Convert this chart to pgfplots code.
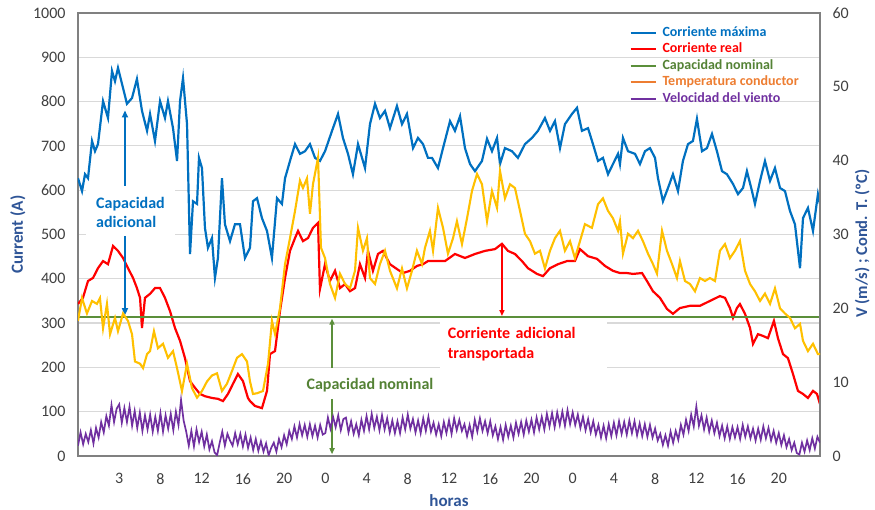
\documentclass[border=0pt]{standalone}
\usepackage{fontspec}
\setmainfont{Carlito}
\usepackage{pgfplots}
\pgfplotsset{compat=1.18}
\usetikzlibrary{arrows.meta}
\definecolor{cmax}{HTML}{0070C0}
\definecolor{creal}{HTML}{FF0000}
\definecolor{cnom}{HTML}{5B8F3A}
\definecolor{cnomtxt}{HTML}{548235}
\definecolor{ctemp}{HTML}{FFC000}
\definecolor{corange}{HTML}{ED7D31}
\definecolor{cwind}{HTML}{7030A0}
\definecolor{ctitle}{HTML}{2F5597}
\definecolor{cgrid}{HTML}{D9D9D9}
\definecolor{cframe}{HTML}{808080}
\definecolor{ctick}{HTML}{404040}
\pgfplotsset{
  base/.style={scale only axis, width=742pt, height=443pt, xmin=0, xmax=72,
    tick style={draw=none}, major tick length=0pt,
    /pgf/number format/assume math mode=true,
    /pgf/number format/set thousands separator={},
    tick label style={font=\fontsize{16}{18}\selectfont, text=ctick},
    axis line style={draw=cframe, line width=1.5pt},
  },
  myleg/.style={legend image code/.code={\draw[#1, line width=2pt] (0pt,0pt) -- (25pt,0pt);}},
}
\begin{document}
\begin{tikzpicture}
\begin{axis}[base,
  ymin=0, ymax=1000, ytick={0,100,...,1000},
  xtick={4,8,...,68}, xticklabels={3,8,12,16,20,0,4,8,12,16,20,0,4,8,12,16,20},
  ymajorgrids, grid style={draw=cgrid, line width=1.2pt},
  xticklabel style={yshift=-14pt}, yticklabel style={xshift=-9pt},
  xlabel={horas}, ylabel={Current (A)},
  label style={font=\bfseries\fontsize{17}{20}\selectfont, text=ctitle},
  xlabel style={at={(axis description cs:0.5,-0.1016)}, anchor=center},
  ylabel style={at={(axis description cs:-0.0809,0.5)}, anchor=center},
]
\coordinate (sw) at (rel axis cs:0,0);
\coordinate (ne) at (rel axis cs:1,1);
% white text boxes (hide grid)
\node[fill=white, text=cmax, font=\bfseries\fontsize{16}{19}\selectfont, align=left, anchor=west, inner xsep=10pt, inner ysep=7pt] at (axis cs:0.78,550) {Capacidad\\adicional};
\node[fill=white, text=creal, font=\bfseries\fontsize{16}{20}\selectfont, align=left, anchor=west, inner xsep=8pt, text width=151pt, minimum height=52pt] at (axis cs:35.10,253) {Corriente adicional\\transportada};
\node[fill=white, text=cnomtxt, font=\bfseries\fontsize{16}{19}\selectfont, inner xsep=3pt, inner ysep=4pt] at (axis cs:28.33,160) {Capacidad nominal};

\addplot[cmax, line width=2.2pt] coordinates {
(0,627)(0.39,598)(0.68,636)(0.97,627)(1.36,711)(1.65,688)(1.94,704)(2.43,801)(2.91,763)(3.30,869)(3.59,846)(3.88,876)(4.27,840)(4.75,795)(5.24,808)(5.72,851)(6.21,779)(6.70,734)(6.99,772)(7.47,711)(7.96,801)(8.44,763)(8.73,801)(9.22,740)(9.61,666)(9.90,801)(10.19,853)(10.58,749)(10.87,456)(11.16,575)(11.55,569)(11.74,673)(12.03,650)(12.32,515)(12.61,470)(13.00,492)(13.29,402)(13.58,447)(13.97,627)(14.26,523)(14.75,485)(15.23,523)(15.72,523)(16.20,447)(16.69,470)(16.98,575)(17.37,582)(17.85,537)(18.34,508)(18.82,447)(19.31,582)(19.79,569)(20.09,627)(20.57,666)(21.06,704)(21.54,682)(22.03,688)(22.51,704)(23.00,673)(23.48,666)(23.97,688)(24.65,734)(25.23,772)(25.71,718)(26.20,682)(26.68,636)(27.17,704)(27.85,650)(28.33,749)(28.82,795)(29.30,763)(29.79,779)(30.27,740)(30.95,790)(31.44,749)(31.92,772)(32.51,695)(32.99,718)(33.48,704)(33.96,673)(34.35,673)(34.93,650)(35.42,695)(36.10,756)(36.58,734)(37.07,767)(37.55,695)(38.04,659)(38.52,643)(39.20,666)(39.69,716)(40.17,688)(40.66,718)(40.95,659)(41.43,695)(42.11,688)(42.69,673)(43.37,704)(44.05,718)(44.63,734)(45.31,763)(45.80,734)(46.28,756)(46.77,695)(47.25,749)(47.93,772)(48.42,786)(48.90,734)(49.49,740)(49.97,704)(50.46,666)(50.94,673)(51.43,636)(51.91,659)(52.40,682)(52.59,659)(52.88,718)(53.37,688)(54.05,682)(54.53,659)(55.02,688)(55.50,695)(55.99,673)(56.28,627)(56.76,575)(57.25,605)(57.73,636)(58.22,598)(58.70,666)(59.19,704)(59.67,711)(60.06,761)(60.55,688)(61.03,695)(61.52,727)(62.00,688)(62.49,643)(62.97,636)(63.56,614)(64.04,591)(64.53,605)(64.91,643)(65.40,598)(65.69,569)(66.18,621)(66.66,666)(67.15,621)(67.63,650)(68.12,605)(68.60,598)(69.09,553)(69.57,523)(70.06,424)(70.35,537)(70.83,560)(71.32,508)(71.80,591)(72,569)
};
\addplot[creal, line width=2.2pt] coordinates {
(0,343)(0.48,357)(0.97,395)(1.46,402)(1.94,424)(2.43,440)(2.91,433)(3.40,474)(3.88,463)(4.37,447)(4.85,424)(5.34,402)(5.72,379)(6.02,357)(6.21,289)(6.50,357)(6.99,366)(7.47,379)(7.96,379)(8.44,357)(8.93,327)(9.41,289)(9.90,260)(10.38,221)(10.87,169)(11.35,154)(11.84,140)(12.32,135)(13.00,131)(13.58,129)(14.07,124)(14.55,140)(15.04,163)(15.52,185)(16.01,169)(16.49,131)(16.69,124)(17.17,113)(17.85,108)(18.34,147)(18.63,230)(19.12,237)(19.60,327)(20.09,402)(20.57,463)(21.06,492)(21.35,508)(21.83,485)(22.32,492)(22.80,515)(23.29,526)(23.48,377)(23.97,433)(24.45,395)(24.94,418)(25.42,379)(25.91,388)(26.39,372)(26.88,379)(27.36,433)(27.85,402)(28.14,463)(28.62,418)(29.11,456)(29.59,463)(30.27,433)(30.95,422)(31.53,413)(32.21,418)(32.89,429)(33.48,433)(33.96,440)(34.64,440)(35.61,440)(36.58,456)(37.55,447)(38.52,456)(39.49,463)(40.46,467)(41.14,479)(41.72,463)(42.40,456)(43.08,440)(43.66,424)(44.54,411)(45.12,406)(45.80,424)(46.58,433)(47.45,440)(48.22,440)(48.71,467)(49.49,451)(50.36,445)(51.14,429)(51.91,418)(52.59,413)(53.27,413)(53.85,411)(54.73,413)(55.21,395)(55.79,372)(56.47,357)(57.15,332)(57.73,321)(58.41,334)(59.38,339)(60.35,339)(61.32,350)(62.29,361)(62.78,357)(63.26,334)(63.56,312)(63.94,334)(64.23,343)(64.72,321)(65.21,289)(65.50,253)(65.98,275)(66.47,271)(66.95,266)(67.53,305)(67.92,266)(68.41,230)(68.89,221)(69.38,185)(69.86,147)(70.35,140)(70.83,131)(71.32,147)(71.71,140)(72,117)
};
\addplot[cnom, line width=2pt] coordinates {(0,313)(72,313)};
% arrows
\draw[cmax, line width=2pt, -{Triangle[length=7pt,width=6pt]}] (axis cs:4.56,610) -- (axis cs:4.56,780);
\draw[cmax, line width=2pt, -{Triangle[length=7pt,width=6pt]}] (axis cs:4.56,497) -- (axis cs:4.56,318);
\draw[creal, line width=1.6pt, -{Triangle[length=6pt,width=5pt]}] (axis cs:41.14,479) -- (axis cs:41.14,316);
\draw[cnom, line width=1.6pt, -{Triangle[length=6pt,width=5pt]}] (axis cs:24.65,199) -- (axis cs:24.65,310);
\draw[cnom, line width=1.6pt, -{Triangle[length=6pt,width=5pt]}] (axis cs:24.65,129) -- (axis cs:24.65,4);
\end{axis}
\begin{axis}[base, myleg,
  ymin=0, ymax=60, ytick={0,10,...,60},
  axis x line=none, axis y line*=right,
  yticklabel style={xshift=9pt},
  ylabel={V (m/s) ; Cond. T. (ºC)},
  ylabel style={at={(axis description cs:1.057,0.479)}, anchor=center, font=\bfseries\fontsize{16.5}{19}\selectfont, text=ctitle},
  legend style={draw=none, fill=none, at={(axis description cs:0.743,0.970)}, anchor=north west,
    font=\bfseries\fontsize{14}{16}\selectfont, row sep=3.5pt, inner sep=0pt,
    nodes={inner sep=0pt, text height=10pt, text depth=3pt}},
  legend cell align=left,
]
\addlegendimage{cmax}\addlegendentry{\hspace{6pt}\textcolor{cmax}{Corriente máxima}}
\addlegendimage{creal}\addlegendentry{\hspace{6pt}\textcolor{creal}{Corriente real}}
\addlegendimage{cnom}\addlegendentry{\hspace{6pt}\textcolor{cnomtxt}{Capacidad nominal}}
\addlegendimage{corange}\addlegendentry{\hspace{6pt}\textcolor{corange}{Temperatura conductor}}
\addlegendimage{cwind}\addlegendentry{\hspace{6pt}\textcolor{cwind}{Velocidad del viento}}
\addplot[ctemp, line width=2.1pt, forget plot] coordinates {
(0,18.3)(0.39,21.4)(0.87,19.3)(1.36,21.0)(1.84,20.6)(2.13,21.4)(2.43,17.3)(2.81,20.6)(3.11,16.5)(3.59,18.7)(3.88,16.9)(4.37,19.3)(4.85,18.3)(5.24,16.5)(5.53,12.8)(6.02,12.5)(6.31,11.9)(6.70,13.8)(6.99,14.2)(7.37,16.9)(7.76,14.6)(8.25,15.2)(8.73,13.3)(9.22,14.2)(9.61,11.9)(10.09,8.8)(10.58,12.5)(11.06,9.2)(11.55,7.9)(12.03,8.8)(12.52,10.1)(13.00,10.9)(13.49,11.2)(13.97,8.8)(14.46,9.8)(14.94,11.5)(15.43,13.3)(15.91,13.8)(16.40,12.8)(16.69,10.1)(16.98,8.4)(17.37,8.5)(17.95,8.8)(18.44,12.5)(18.82,18.3)(19.12,16.5)(19.60,20.0)(20.09,26.0)(20.57,29.5)(21.06,33.2)(21.54,37.3)(21.83,36.3)(22.22,37.6)(22.51,32.8)(22.80,36.8)(23.29,40.4)(23.58,28.2)(23.97,26.8)(24.45,23.3)(24.94,21.4)(25.42,24.7)(25.91,23.3)(26.39,22.7)(26.88,25.1)(27.17,30.9)(27.65,27.8)(28.04,29.5)(28.33,24.1)(28.82,23.3)(29.30,26.0)(29.79,27.8)(30.27,25.1)(30.95,22.7)(31.44,25.4)(31.92,22.7)(32.41,25.1)(32.89,27.8)(33.38,26.0)(33.67,28.2)(34.15,30.5)(34.45,27.8)(34.93,33.6)(35.42,30.9)(35.90,27.4)(36.39,29.5)(36.77,31.8)(37.26,28.7)(37.75,32.2)(38.23,35.9)(38.72,38.2)(39.20,36.8)(39.69,31.8)(40.17,35.9)(40.66,33.6)(40.95,38.6)(41.43,34.9)(41.92,36.8)(42.40,36.3)(42.89,33.2)(43.37,30.1)(43.86,29.1)(44.34,27.4)(44.83,27.8)(45.31,25.4)(45.80,27.8)(46.28,29.5)(46.77,30.5)(47.25,27.8)(47.74,29.1)(48.22,26.8)(48.71,29.1)(49.19,31.4)(49.87,30.9)(50.46,34.1)(50.94,34.9)(51.43,33.2)(51.91,32.2)(52.40,30.5)(52.59,31.8)(52.88,27.4)(53.37,30.1)(53.85,29.5)(54.34,30.5)(54.82,29.1)(55.31,27.4)(55.79,26.0)(56.18,24.7)(56.67,30.5)(57.15,27.8)(57.64,26.0)(58.12,24.1)(58.41,26.4)(58.90,23.7)(59.38,23.3)(59.87,22.3)(60.35,24.1)(60.84,23.7)(61.32,24.1)(61.81,23.7)(62.29,27.8)(62.78,28.7)(63.26,26.8)(63.75,27.8)(64.23,29.1)(64.72,25.1)(65.21,23.3)(65.69,22.3)(66.18,21.0)(66.66,22.0)(67.15,20.6)(67.63,22.7)(68.12,20.0)(68.60,19.3)(69.09,18.7)(69.57,17.3)(70.06,17.9)(70.35,15.6)(70.83,14.2)(71.32,15.2)(71.80,13.8)(72,13.8)
};
\addplot[cwind, line width=1.7pt, forget plot] table[header=false, row sep=\\, y index=0, x expr=\coordindex*0.25] {
1.4\\3.2\\1.6\\3.0\\1.9\\3.5\\1.7\\3.8\\2.5\\4.6\\3.2\\5.4\\4.1\\6.9\\4.6\\6.4\\
7.0\\4.5\\6.5\\4.6\\6.7\\4.1\\6.1\\3.8\\5.9\\3.4\\5.5\\3.6\\5.6\\3.3\\5.3\\3.4\\
5.8\\3.3\\5.5\\3.7\\5.7\\3.5\\6.0\\4.2\\7.6\\4.8\\3.3\\1.4\\3.4\\1.3\\3.6\\1.9\\
3.3\\1.3\\2.9\\0.9\\2.0\\0.5\\0.1\\1.8\\3.3\\1.4\\3.0\\2.1\\1.4\\3.1\\1.6\\3.0\\
1.3\\2.9\\1.1\\2.5\\0.8\\2.3\\0.7\\2.0\\0.6\\1.7\\0.1\\1.1\\1.8\\0.6\\2.3\\1.2\\
2.8\\1.6\\3.4\\2.3\\4.0\\2.5\\4.3\\2.8\\4.2\\2.6\\4.3\\2.7\\4.1\\2.5\\4.2\\2.9\\
3.1\\5.2\\3.7\\5.3\\3.9\\5.5\\3.5\\5.0\\5.2\\3.2\\4.7\\3.0\\4.3\\2.8\\4.9\\3.4\\
5.4\\3.6\\5.7\\3.8\\5.3\\3.5\\5.5\\3.6\\5.1\\3.2\\4.8\\3.1\\4.7\\3.1\\5.2\\3.6\\
5.6\\3.7\\5.0\\3.2\\4.8\\3.1\\5.1\\3.4\\5.3\\3.3\\4.5\\2.9\\4.3\\2.7\\4.6\\3.1\\
4.8\\3.0\\5.1\\3.5\\4.9\\3.4\\4.3\\2.7\\4.2\\2.6\\4.9\\3.3\\5.1\\3.4\\4.7\\3.1\\
4.7\\2.8\\4.0\\2.3\\3.9\\2.2\\4.2\\2.6\\4.1\\2.5\\4.5\\3.0\\4.6\\2.9\\4.8\\3.3\\
4.9\\3.2\\5.2\\3.6\\5.3\\3.6\\5.7\\4.0\\5.8\\3.9\\5.9\\4.2\\6.0\\4.1\\6.2\\4.3\\
5.9\\4.2\\5.6\\3.8\\5.3\\3.5\\5.0\\3.2\\4.7\\2.9\\4.2\\2.5\\4.1\\2.4\\4.3\\2.7\\
4.5\\2.8\\4.7\\3.0\\4.6\\2.9\\4.8\\3.1\\4.7\\2.8\\4.4\\2.7\\4.3\\2.6\\4.2\\2.5\\
3.7\\2.1\\3.0\\1.5\\2.8\\1.4\\3.3\\1.8\\3.4\\2.2\\4.2\\2.9\\4.9\\3.4\\5.6\\4.0\\
6.7\\4.1\\5.5\\3.6\\5.2\\3.3\\4.8\\3.1\\4.5\\2.7\\4.1\\2.4\\4.0\\2.3\\3.9\\2.5\\
3.9\\2.3\\4.2\\2.6\\4.0\\2.4\\3.7\\2.1\\3.7\\2.2\\4.0\\2.4\\3.8\\2.1\\3.4\\1.8\\
3.1\\1.5\\2.8\\1.2\\2.3\\0.8\\1.8\\0.4\\0.2\\1.8\\0.6\\2.1\\0.8\\2.4\\1.0\\2.6\\
1.8\\
};
\end{axis}
\pgfresetboundingbox
\path ([shift={(-78pt,-54pt)}]sw) rectangle ([shift={(55pt,13pt)}]ne);
\end{tikzpicture}
\end{document}
